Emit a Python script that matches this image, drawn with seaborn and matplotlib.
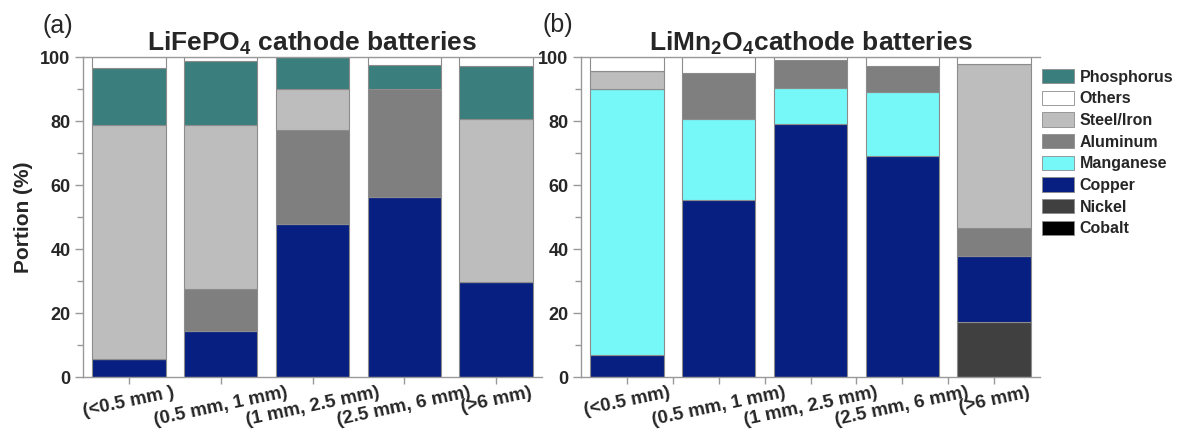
import numpy as np
import pandas as pd
import matplotlib
matplotlib.use("Agg")
import matplotlib.pyplot as plt
from matplotlib.patches import Patch
from matplotlib.ticker import MultipleLocator, FixedLocator
import seaborn as sns

# Size fractions
sizes_lfp = ["(<0.5 mm )", "(0.5 mm, 1 mm)", "(1 mm, 2.5 mm)", "(2.5 mm, 6 mm)", "(>6 mm)"]
sizes_lmo = ["(<0.5 mm)", "(0.5 mm, 1 mm)", "(1 mm, 2.5 mm)", "(2.5 mm, 6 mm)", "(>6 mm)"]

# Stack order, bottom to top
materials = ["Cobalt", "Nickel", "Copper", "Manganese", "Aluminum", "Steel/Iron", "Phosphorus", "Others"]
legend_order = ["Phosphorus", "Others", "Steel/Iron", "Aluminum", "Manganese", "Copper", "Nickel", "Cobalt"]

# LiFePO4 cathode batteries, portion (%)
lfp_cobalt     = [0.0, 0.0, 0.0, 0.0, 0.0]
lfp_nickel     = [0.0, 0.0, 0.0, 0.0, 0.0]
lfp_copper     = [5.6, 14.4, 47.9, 56.2, 29.6]
lfp_manganese  = [0.0, 0.0, 0.0, 0.0, 0.0]
lfp_aluminum   = [0.0, 13.0, 29.2, 33.8, 0.0]
lfp_steel      = [73.2, 51.4, 12.9, 0.0, 50.9]
lfp_phosphorus = [17.9, 20.0, 10.0, 7.4, 16.7]
lfp_others     = [3.3, 1.2, 0.0, 2.6, 2.8]

# LiMn2O4 cathode batteries, portion (%)
lmo_cobalt     = [0.0, 0.0, 0.0, 0.0, 0.0]
lmo_nickel     = [0.0, 0.0, 0.0, 0.0, 17.3]
lmo_copper     = [6.9, 55.3, 79.0, 69.1, 20.6]
lmo_manganese  = [83.2, 25.2, 11.4, 19.9, 0.0]
lmo_aluminum   = [0.0, 14.6, 8.8, 8.1, 8.6]
lmo_steel      = [5.6, 0.0, 0.0, 0.0, 51.2]
lmo_phosphorus = [0.0, 0.0, 0.0, 0.0, 0.0]
lmo_others     = [4.3, 4.9, 0.8, 2.9, 2.3]

colors = {
    "Phosphorus": "#3a7f7d",
    "Others": "#ffffff",
    "Steel/Iron": "#bdbdbd",
    "Aluminum": "#7f7f7f",
    "Manganese": "#76f8f8",
    "Copper": "#061f80",
    "Nickel": "#404040",
    "Cobalt": "#000000",
}

def make_frame(sizes, *cols):
    df = pd.DataFrame({"size": sizes})
    for name, vals in zip(materials, cols):
        df[name] = vals
    return df

df_lfp = make_frame(sizes_lfp, lfp_cobalt, lfp_nickel, lfp_copper, lfp_manganese,
                    lfp_aluminum, lfp_steel, lfp_phosphorus, lfp_others)
df_lmo = make_frame(sizes_lmo, lmo_cobalt, lmo_nickel, lmo_copper, lmo_manganese,
                    lmo_aluminum, lmo_steel, lmo_phosphorus, lmo_others)

sns.set_style("white")
plt.rcParams["font.family"] = ["Liberation Sans", "DejaVu Sans"]
plt.rcParams["mathtext.fontset"] = "custom"
plt.rcParams["mathtext.rm"] = "Liberation Sans:bold"
plt.rcParams["mathtext.it"] = "Liberation Sans:bold"
plt.rcParams["mathtext.bf"] = "Liberation Sans:bold"
plt.rcParams["mathtext.default"] = "rm"

W, H = 1179, 429
fig = plt.figure(figsize=(W / 100, H / 100), dpi=100)
ax1 = fig.add_axes([83 / W, 1 - 377 / H, (542 - 83) / W, (377 - 57) / H])
ax2 = fig.add_axes([581 / W, 1 - 377 / H, (1040 - 581) / W, (377 - 57) / H])

edge = "#8c8c8c"

def stacked(ax, df):
    bottom = np.zeros(len(df))
    for name in materials:
        vals = df[name].to_numpy()
        sns.barplot(x="size", y=name, data=df, ax=ax, color=colors[name],
                    saturation=1, width=0.8, bottom=bottom,
                    edgecolor=edge, linewidth=0.8, errorbar=None)
        bottom = bottom + vals

def style_axes(ax, minor_x):
    ax.set_ylim(0, 100)
    ax.set_xlim(-0.5, 4.5)
    ax.set_xlabel("")
    ax.set_ylabel("")
    ax.yaxis.set_major_locator(MultipleLocator(20))
    ax.yaxis.set_minor_locator(MultipleLocator(10))
    if minor_x:
        ax.xaxis.set_minor_locator(FixedLocator([0.5, 1.5, 2.5, 3.5]))
    for s in ["left", "bottom", "top"]:
        ax.spines[s].set_color("#999999")
        ax.spines[s].set_linewidth(1.0)
    ax.spines["right"].set_visible(False)
    ax.tick_params(axis="both", which="both", direction="out", color="#999999",
                   left=True, bottom=True, top=False, right=False)
    ax.tick_params(axis="y", which="major", length=6, width=1, pad=3,
                   labelsize=13)
    ax.tick_params(axis="y", which="minor", length=4, width=1)
    ax.tick_params(axis="x", which="major", length=5, width=1, pad=0,
                   labelsize=13.5)
    ax.tick_params(axis="x", which="minor", length=5, width=1)
    for lab in ax.get_yticklabels():
        lab.set_fontweight("bold")
    for lab in ax.get_xticklabels():
        lab.set_fontweight("bold")
        lab.set_rotation(12)
        lab.set_ha("center")

stacked(ax1, df_lfp)
stacked(ax2, df_lmo)
style_axes(ax1, False)
style_axes(ax2, True)

ax1.set_title("LiFePO$_4$ cathode batteries", fontsize=19, fontweight="bold", pad=4)
ax2.set_title("LiMn$_2$O$_4$cathode batteries", fontsize=19, fontweight="bold", pad=4)
ax1.set_ylabel("Portion (%)", fontsize=15, fontweight="bold", labelpad=5)

fig.text(42 / W, 1 - 33 / H, "(a)", fontsize=18)
fig.text(542 / W, 1 - 32 / H, "(b)", fontsize=18)

handles = [Patch(facecolor=colors[m], edgecolor=edge, linewidth=0.6, label=m)
           for m in legend_order]
fig.legend(handles=handles, loc="upper left", bbox_to_anchor=(1042 / W, 1 - 69 / H),
           frameon=False, borderpad=0, borderaxespad=0, handlelength=2.0,
           handleheight=1.0, handletextpad=0.35, labelspacing=0.38,
           prop={"weight": "bold", "size": 11.5})

fig.savefig("out.png", dpi=100)
